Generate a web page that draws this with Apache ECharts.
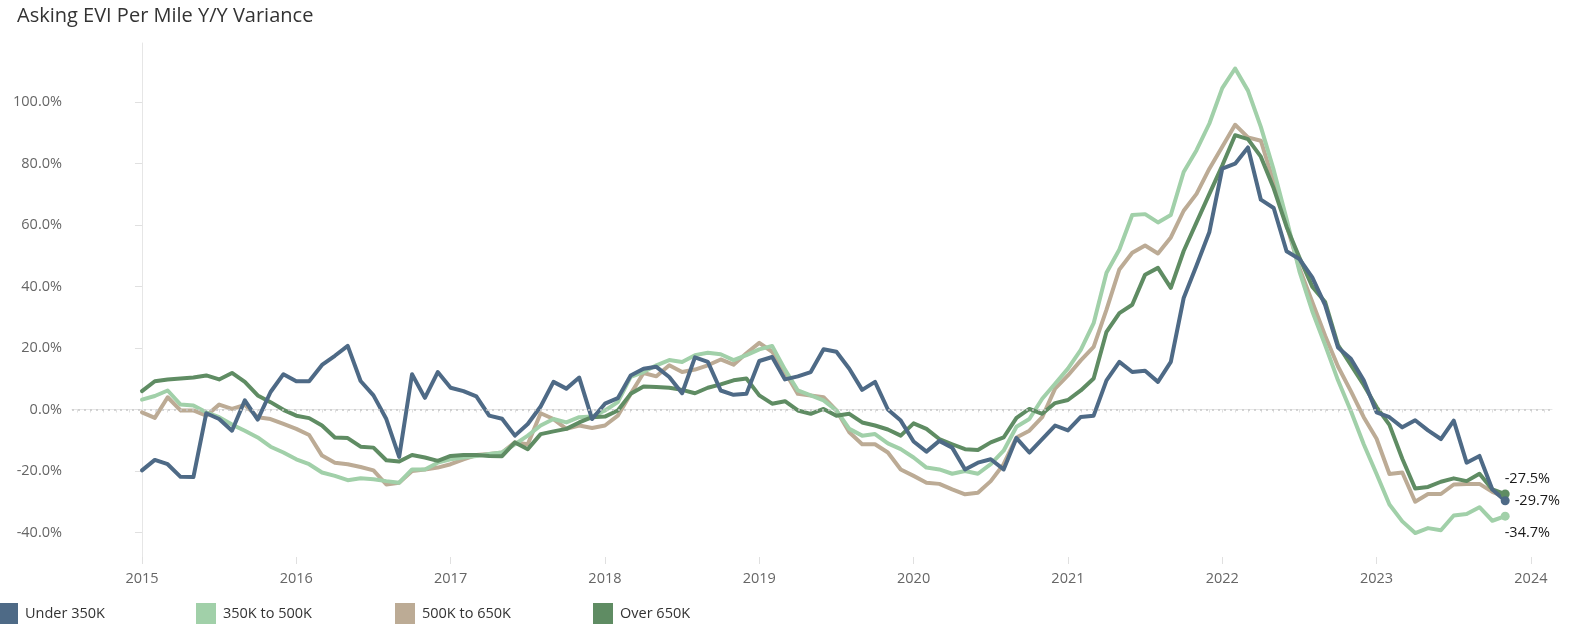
<!DOCTYPE html>
<html>
<head>
<meta charset="utf-8">
<script src="https://cdn.jsdelivr.net/npm/echarts@6/dist/echarts.min.js"></script>
<style>
html,body{margin:0;padding:0;background:#fff;}
#chart{width:1575px;height:624px;}
</style>
</head>
<body>
<div id="chart"></div>
<script>
// Monthly observations, Jan 2015 .. Nov 2023 (index 0 = Jan 2015)
const seriesNames = ['Under 350K', '350K to 500K', '500K to 650K', 'Over 650K'];
const yearLabels = ['2015','2016','2017','2018','2019','2020','2021','2022','2023','2024'];
const yTickValues = [-40, -20, 0, 20, 40, 60, 80, 100];

const under350 = [
-19.8,-16.4,-17.8,-21.9,-22.0,-1.2,-3.1,-6.9,3.0,-3.3,5.7,11.5,
9.2,9.2,14.5,17.5,20.7,9.3,4.6,-3.1,-15.4,11.5,3.8,12.2,
7.1,6.0,4.3,-2.0,-3.0,-8.5,-4.7,1.0,9.0,6.8,10.4,-3.1,
1.9,3.7,11.1,13.3,13.9,10.6,5.3,17.0,15.5,6.2,4.8,5.1,
15.8,17.1,9.8,10.8,12.2,19.6,18.8,13.3,6.4,9.0,0.0,-3.6,
-10.4,-13.7,-10.2,-12.4,-19.5,-17.3,-16.2,-19.5,-9.3,-14.0,-9.6,-5.2,
-6.8,-2.4,-2.0,9.5,15.5,12.2,12.6,9.0,15.5,36.3,46.9,57.8,
78.4,80.0,85.3,68.3,65.6,51.5,49.0,43.0,34.0,20.2,16.5,9.5,
-0.9,-2.5,-5.8,-3.5,-6.8,-9.6,-3.6,-17.3,-15.1,-26.0,-29.7
];
const from350to500 = [
3.2,4.4,6.2,1.6,1.3,-0.9,-2.5,-4.9,-6.9,-9.1,-12.1,-14.0,
-16.2,-17.8,-20.5,-21.6,-23.0,-22.4,-22.7,-23.3,-23.8,-19.5,-19.5,-17.3,
-16.2,-15.6,-15.1,-14.5,-14.0,-11.3,-8.5,-5.2,-3.1,-4.2,-2.5,-2.3,
-0.3,2.4,10.6,12.2,14.4,16.1,15.5,17.7,18.5,18.0,16.1,17.7,
19.6,20.7,13.0,6.2,4.6,3.0,-0.3,-6.3,-8.5,-8.0,-11.0,-12.9,
-15.6,-18.9,-19.5,-20.9,-20.0,-20.9,-17.8,-13.4,-5.6,-3.1,3.5,8.4,
13.3,19.4,28.1,44.5,52.1,63.3,63.6,60.9,63.3,77.3,84.4,93.1,
104.6,111.0,103.8,92.0,78.0,62.0,45.0,32.0,21.0,9.5,-0.5,-11.3,
-21.0,-30.9,-36.4,-40.2,-38.6,-39.3,-34.5,-34.0,-31.8,-36.2,-34.7
];
const from500to650 = [
-0.9,-2.7,4.0,-0.3,-0.3,-2.0,1.6,0.2,1.5,-2.5,-3.1,-4.7,
-6.3,-8.3,-15.0,-17.3,-17.8,-18.7,-19.8,-24.4,-23.8,-20.0,-19.5,-18.9,
-17.8,-16.2,-14.8,-14.5,-14.0,-10.7,-11.3,-1.2,-3.1,-6.3,-5.2,-6.0,
-5.2,-2.0,5.1,11.9,10.8,14.4,12.2,13.0,14.4,16.3,14.6,18.3,
21.7,18.8,12.2,5.1,4.6,4.0,-0.3,-7.4,-11.3,-11.3,-14.0,-19.5,
-21.6,-23.8,-24.2,-26.0,-27.6,-27.1,-23.3,-17.8,-9.1,-6.9,-2.5,6.8,
11.1,16.0,20.4,32.5,45.6,51.0,53.4,50.8,56.0,64.7,70.2,78.4,
85.5,92.7,88.6,87.5,74.0,60.0,46.0,35.0,24.0,14.0,6.0,-2.5,
-9.5,-21.0,-20.5,-30.0,-27.5,-27.5,-24.4,-24.2,-24.2,-26.8,-28.5
];
const over650 = [
6.0,9.2,9.8,10.1,10.4,11.1,9.8,11.9,9.0,4.6,2.4,-0.1,
-2.0,-2.8,-5.2,-9.1,-9.3,-12.1,-12.4,-16.5,-16.9,-14.8,-15.6,-16.7,
-15.1,-14.8,-14.8,-15.1,-15.2,-10.7,-12.9,-8.0,-7.1,-6.3,-4.2,-2.5,
-2.3,-0.3,5.1,7.5,7.3,7.1,6.4,5.3,7.1,8.2,9.5,10.1,
4.6,1.9,2.7,-0.3,-1.4,0.2,-2.0,-1.4,-4.2,-5.2,-6.5,-8.5,
-4.5,-6.3,-9.6,-11.3,-12.9,-13.2,-10.7,-9.1,-2.7,0.2,-1.4,2.1,
3.1,6.2,10.1,25.3,31.4,34.1,43.9,46.1,39.6,51.6,60.9,70.2,
79.4,89.3,88.0,82.3,72.0,59.5,49.5,40.0,35.0,21.0,14.5,8.0,
0.8,-5.0,-16.0,-25.7,-25.2,-23.5,-22.4,-23.3,-20.9,-26.0,-27.5
];

const colors = {
  'Under 350K': '#4e6a86',
  '350K to 500K': '#a1d0a9',
  '500K to 650K': '#bcab95',
  'Over 650K': '#5f8c63'
};
const valuesByName = {
  'Under 350K': under350,
  '350K to 500K': from350to500,
  '500K to 650K': from500to650,
  'Over 650K': over650
};
const endLabel = {
  'Under 350K': {dot: true, offset: [0, 0], distance: 5},
  '350K to 500K': {dot: true, offset: [-5, 17], distance: 0},
  '500K to 650K': {dot: false},
  'Over 650K': {dot: true, offset: [-5, -15], distance: 0}
};

const FONT = '"Open Sans", "Noto Sans", sans-serif';
const monthTicks = [];
for (let m = -5; m <= 109; m++) monthTicks.push(m);
const yearTicks = yearLabels.map((y, k) => k * 12);

function buildSeries(name) {
  const vals = valuesByName[name];
  const last = vals.length - 1;
  const cfg = endLabel[name];
  const data = vals.map((v, i) => {
    if (i === last && cfg.dot) {
      return {
        value: [i, v],
        symbol: 'circle',
        symbolSize: 9,
        itemStyle: {color: colors[name]},
        label: {
          show: true,
          position: 'right',
          distance: cfg.distance,
          offset: cfg.offset,
          formatter: v.toFixed(1) + '%',
          color: '#1a1a1a',
          fontSize: 14.5,
          fontFamily: FONT
        }
      };
    }
    return {value: [i, v], symbol: 'none'};
  });
  return {
    name: name,
    type: 'line',
    xAxisIndex: 0,
    data: data,
    showSymbol: true,
    showAllSymbol: true,
    symbol: 'none',
    lineStyle: {width: 4, color: colors[name], cap: 'round', join: 'round'},
    itemStyle: {color: colors[name]},
    emphasis: {disabled: true},
    animation: false,
    z: 3
  };
}

const drawOrder = ['500K to 650K', '350K to 500K', 'Over 650K', 'Under 350K'];
const series = [{
  name: 'zero',
  type: 'line',
  data: [],
  markLine: {
    silent: true,
    symbol: 'none',
    label: {show: false},
    lineStyle: {type: [2, 4], color: '#c8c8c8', width: 1.5},
    data: [{yAxis: 0}]
  },
  animation: false,
  z: 1
}].concat(drawOrder.map(buildSeries));

const legendLefts = [-7, 191, 390, 588];
const legends = seriesNames.map((n, k) => ({
  data: [{name: n, icon: 'rect', itemStyle: {color: colors[n]}}],
  left: legendLefts[k],
  top: 598,
  itemWidth: 20,
  itemHeight: 22,
  textStyle: {fontSize: 14.5, color: '#333', fontFamily: FONT, padding: [0, 0, 0, 2]},
  selectedMode: false
}));

const chart = echarts.init(document.getElementById('chart'), null, {renderer: 'canvas'});
chart.setOption({
  animation: false,
  color: seriesNames.map(n => colors[n]),
  title: {
    text: 'Asking EVI Per Mile Y/Y Variance',
    left: 12,
    top: 1,
    textStyle: {fontSize: 20, fontWeight: 'normal', color: '#333', fontFamily: FONT}
  },
  legend: legends,
  grid: {left: 72, right: 23, top: 43, bottom: 67, containLabel: false},
  xAxis: [{
    type: 'value',
    min: -5.44,
    max: 109.64,
    position: 'bottom',
    axisLine: {show: true, lineStyle: {color: '#e6e6e6', width: 1}},
    axisTick: {show: true, customValues: monthTicks, length: 3, lineStyle: {color: '#e0e0e0'}},
    axisLabel: {show: false},
    splitLine: {show: false}
  }, {
    type: 'value',
    min: -5.44,
    max: 109.64,
    position: 'bottom',
    axisLine: {show: false},
    axisTick: {show: true, customValues: yearTicks, length: 7, lineStyle: {color: '#e0e0e0'}},
    axisLabel: {
      show: true,
      customValues: yearTicks,
      formatter: v => yearLabels[Math.round(v / 12)],
      color: '#666',
      fontSize: 14.5,
      fontFamily: FONT,
      margin: 14
    },
    splitLine: {show: false}
  }],
  yAxis: {
    type: 'value',
    min: -48,
    max: 119.3,
    axisLine: {show: true, lineStyle: {color: '#e6e6e6', width: 1}},
    axisTick: {show: true, customValues: yTickValues, length: 7, lineStyle: {color: '#e0e0e0'}},
    axisLabel: {
      customValues: yTickValues,
      formatter: v => v.toFixed(1) + '%',
      color: '#666',
      fontSize: 14.5,
      fontFamily: FONT,
      margin: 10
    },
    splitLine: {show: false}
  },
  series: series
});
</script>
</body>
</html>
